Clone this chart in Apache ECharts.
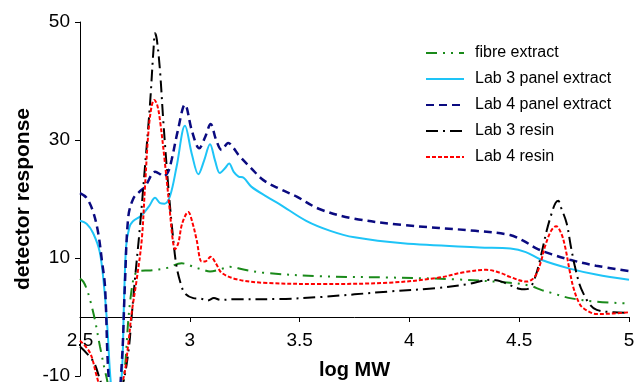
<!DOCTYPE html>
<html>
<head>
<meta charset="utf-8">
<script src="https://cdn.jsdelivr.net/npm/echarts@6/dist/echarts.min.js"></script>
<style>
html,body{margin:0;padding:0;background:#fff;}
#chart{width:638px;height:382px;}
</style>
</head>
<body>
<div id="chart"></div>
<script>
// ---- data (log MW vs detector response) ----
const xTicks = [2.5, 3, 3.5, 4, 4.5, 5];
const yTicks = [-10, 10, 30, 50];
const seriesNames = ['fibre extract', 'Lab 3 panel extract', 'Lab 4 panel extract', 'Lab 3 resin', 'Lab 4 resin'];

const fibreX = [2.5, 2.515, 2.53, 2.546, 2.568, 2.591, 2.62, 2.65, 2.69, 2.705, 2.72, 2.735, 2.75, 2.77, 2.82, 2.895, 2.963, 2.99, 3.016, 3.06, 3.092, 3.14, 3.183, 3.25, 3.335, 3.6, 3.9, 4.2, 4.458, 4.549, 4.6, 4.655, 4.731, 4.853, 5.0];
const fibreY = [6.5, 6.0, 4.8, 2.9, -0.5, -5, -10.1, -14, -12, -8.4, -0.5, 4.6, 7.2, 7.8, 7.9, 8.3, 9.1, 8.9, 8.5, 8.0, 7.7, 8.1, 8.5, 8.0, 7.5, 6.9, 6.7, 6.4, 5.8, 5.3, 4.6, 4.0, 3.2, 2.6, 2.3];

const lab3PanelX = [2.5, 2.53, 2.56, 2.59, 2.61, 2.625, 2.64, 2.665, 2.69, 2.7, 2.71, 2.725, 2.74, 2.78, 2.815, 2.842, 2.865, 2.885, 2.91, 2.94, 2.978, 3.01, 3.039, 3.065, 3.092, 3.115, 3.137, 3.16, 3.179, 3.2, 3.222, 3.245, 3.28, 3.35, 3.41, 3.53, 3.64, 3.75, 3.97, 4.32, 4.46, 4.53, 4.6, 4.73, 4.85, 5.0];
const lab3PanelY = [16.3, 15.8, 14.2, 11.0, 5, -2, -11, -18, -10, 2, 12, 15.2, 16.2, 17.2, 18.8, 20.2, 19.3, 19.2, 20.5, 25.5, 32.4, 27.5, 24.2, 26.5, 29.3, 26.5, 24.4, 25.2, 26.0, 24.6, 23.8, 23.6, 22.1, 20.4, 19.1, 16.3, 14.6, 13.5, 12.5, 11.8, 11.6, 11.0, 9.7, 8.2, 7.2, 6.3];

const lab4PanelX = [2.5, 2.53, 2.56, 2.583, 2.6, 2.614, 2.63, 2.66, 2.69, 2.705, 2.72, 2.743, 2.77, 2.796, 2.842, 2.865, 2.879, 2.9, 2.917, 2.945, 2.978, 3.01, 3.043, 3.07, 3.095, 3.12, 3.145, 3.175, 3.2, 3.221, 3.28, 3.335, 3.41, 3.487, 3.59, 3.745, 3.97, 4.3, 4.458, 4.52, 4.58, 4.65, 4.731, 4.85, 5.0];
const lab4PanelY = [21.0, 20.2, 17.8, 14.2, 9.5, 5.1, -10, -20, -8, 6, 17.0, 20.1, 21.2, 22.1, 24.6, 24.2, 23.8, 24.5, 26.6, 31.5, 36.0, 31.5, 28.6, 30.5, 32.7, 30.0, 28.3, 29.5, 28.6, 27.5, 25.2, 23.2, 21.7, 20.4, 18.3, 16.7, 15.6, 14.6, 13.9, 12.9, 11.6, 10.6, 9.7, 8.7, 7.8];

const lab3ResinX = [2.5, 2.56, 2.59, 2.64, 2.69, 2.72, 2.735, 2.75, 2.773, 2.796, 2.819, 2.835, 2.842, 2.85, 2.864, 2.879, 2.902, 2.925, 2.94, 2.96, 2.978, 3.016, 3.05, 3.08, 3.11, 3.14, 3.2, 3.41, 3.6, 3.9, 4.12, 4.27, 4.367, 4.42, 4.458, 4.5, 4.525, 4.55, 4.575, 4.6, 4.625, 4.648, 4.665, 4.678, 4.69, 4.716, 4.735, 4.754, 4.775, 4.792, 4.82, 4.853, 4.93, 5.0];
const lab3ResinY = [-5, -7.5, -10.5, -16, -12, -6, 0, 6.3, 15.3, 25.5, 36.2, 45.5, 48.1, 47.0, 41.9, 33.4, 22.1, 13.0, 8.5, 5.5, 4.0, 3.2, 3.1, 2.8, 3.2, 2.9, 3.0, 3.05, 3.4, 4.3, 4.9, 5.6, 6.3, 6.0, 5.4, 4.8, 4.7, 5.0, 7, 10.5, 14.6, 17.6, 19.3, 19.7, 18.6, 15.9, 12, 8.5, 5.5, 4.0, 2.2, 1.2, 0.8, 0.7];

const lab4ResinX = [2.5, 2.546, 2.576, 2.62, 2.66, 2.7, 2.72, 2.735, 2.758, 2.781, 2.796, 2.811, 2.825, 2.838, 2.851, 2.864, 2.887, 2.91, 2.922, 2.933, 2.948, 2.965, 2.993, 3.012, 3.031, 3.054, 3.07, 3.095, 3.12, 3.145, 3.213, 3.335, 3.6, 3.9, 4.124, 4.25, 4.35, 4.42, 4.458, 4.534, 4.56, 4.58, 4.6, 4.617, 4.645, 4.668, 4.69, 4.709, 4.73, 4.746, 4.77, 4.792, 4.853, 4.93, 5.0];
const lab4ResinY = [-4.0, -6.1, -10, -15, -15, -10, -4.5, 0.6, 6.3, 13.0, 22.1, 31.1, 35.5, 36.8, 36.0, 33.4, 26.0, 17.6, 13.2, 11.5, 12.6, 15.8, 17.8, 16.0, 13.1, 9.4, 9.4, 10.2, 9.0, 7.5, 6.4, 5.8, 5.6, 5.8, 6.6, 7.6, 8.0, 7.4, 6.8, 6.0, 6.4, 7.4, 9.5, 11.9, 14.6, 15.4, 14.3, 11.9, 7.8, 5.1, 2.6, 1.5, 0.5, 0.6, 0.8];

function pairs(xs, ys) { return xs.map((x, i) => [x, ys[i]]); }

const FONT = '"Liberation Sans", Arial, sans-serif';
const styles = [
  { color: '#1a8a1a', width: 2, type: [11, 6, 2, 6, 2, 6] },
  { color: '#1ec4f7', width: 2, type: 'solid' },
  { color: '#0a0a80', width: 2.5, type: [8, 5] },
  { color: '#000000', width: 2, type: [12, 5, 2, 5] },
  { color: '#ff0000', width: 2, type: [4, 2] }
];
const datas = [
  pairs(fibreX, fibreY),
  pairs(lab3PanelX, lab3PanelY),
  pairs(lab4PanelX, lab4PanelY),
  pairs(lab3ResinX, lab3ResinY),
  pairs(lab4ResinX, lab4ResinY)
];

const chart = echarts.init(document.getElementById('chart'), null, { renderer: 'canvas' });
chart.setOption({
  animation: false,
  backgroundColor: '#fff',
  textStyle: { fontFamily: FONT },
  grid: { left: 80, right: 9, top: 22, bottom: 6, containLabel: false, outerBoundsMode: 'none' },
  legend: {
    orient: 'vertical',
    left: 425,
    top: 45,
    padding: 0,
    itemWidth: 38,
    itemHeight: 14,
    itemGap: 10,
    itemStyle: { opacity: 0, color: 'transparent', borderColor: 'transparent', borderWidth: 0 },
    textStyle: { fontSize: 16, color: '#000', fontFamily: FONT, padding: [0, 0, 0, 6] },
    data: seriesNames
  },
  xAxis: {
    type: 'value',
    min: 2.5, max: 5, interval: 0.5,
    name: 'log MW',
    nameLocation: 'middle',
    nameGap: -16,
    nameTextStyle: { fontSize: 20, fontWeight: 'bold', color: '#000', fontFamily: FONT },
    axisLine: { onZero: true, lineStyle: { color: '#000', width: 1 } },
    axisTick: { show: true, inside: false, length: 5, lineStyle: { color: '#000' } },
    axisLabel: { fontSize: 19, color: '#000', margin: -45, fontFamily: FONT,
      formatter: v => String(v) },
    splitLine: { show: false }
  },
  yAxis: {
    type: 'value',
    min: -10, max: 50,
    name: 'detector response',
    nameLocation: 'middle',
    nameRotate: 90,
    nameGap: 46,
    nameMoveOverlap: false,
    nameTextStyle: { fontSize: 21, fontWeight: 'bold', color: '#000', fontFamily: FONT },
    axisLine: { show: true, onZero: false, lineStyle: { color: '#000', width: 1 } },
    axisTick: { show: true, inside: false, length: 5, customValues: yTicks, lineStyle: { color: '#000' } },
    axisLabel: { fontSize: 19, color: '#000', margin: 10, customValues: yTicks, fontFamily: FONT },
    splitLine: { show: false }
  },
  series: seriesNames.map((name, i) => ({
    name: name,
    type: 'line',
    data: datas[i],
    smooth: 0.35,
    symbol: 'none',
    showSymbol: false,
    clip: false,
    color: styles[i].color,
    lineStyle: { color: styles[i].color, width: styles[i].width, type: styles[i].type }
  }))
});
</script>
</body>
</html>
